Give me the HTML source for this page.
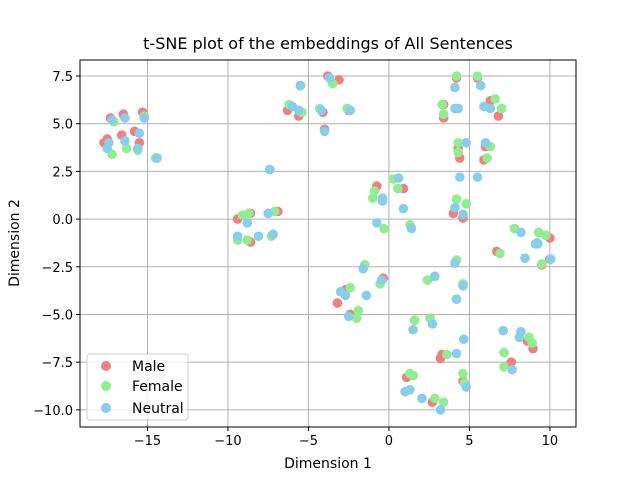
<!DOCTYPE html>
<html><head><meta charset="utf-8"><style>
body{margin:0;background:#fff;}
svg text{font-family:"DejaVu Sans","Liberation Sans",sans-serif;fill:#000;}
</style></head><body>
<svg id="chart" width="640" height="480" viewBox="0 0 640 480" xmlns="http://www.w3.org/2000/svg">
<rect width="640" height="480" fill="#fff"/>
<g id="grid"></g>
<g id="points"></g>
<rect x="80" y="60" width="496" height="367" fill="none" stroke="#000" stroke-width="1"/>
<g id="ticks"></g>
<text x="328" y="49" font-size="16" text-anchor="middle">t-SNE plot of the embeddings of All Sentences</text>
<text x="328" y="468" font-size="14" text-anchor="middle">Dimension 1</text>
<text transform="translate(19,243) rotate(-90)" font-size="14" text-anchor="middle">Dimension 2</text>
<g>
<rect x="87" y="354" width="101" height="66" rx="3" fill="#fff" fill-opacity="0.8" stroke="#ccc"/>
<g><circle cx="106" cy="366" r="5" fill="#F08080"/><text x="132" y="371" font-size="14">Male</text></g>
<g><circle cx="106" cy="386" r="5" fill="#90EE90"/><text x="132" y="391" font-size="14">Female</text></g>
<g><circle cx="106" cy="408" r="5" fill="#87CEEB"/><text x="132" y="413" font-size="14">Neutral</text></g>
</g>
</svg>
<script>
const xTicks=[-15,-10,-5,0,5,10];
const yTicks=[-10,-7.5,-5,-2.5,0,2.5,5,7.5];
const yTickLabels=["−10.0","−7.5","−5.0","−2.5","0.0","2.5","5.0","7.5"];
const xTickLabels=["−15","−10","−5","0","5","10"];
const maleX=[-17.3,-16.5,-15.3,-15.8,-17.7,-17.5,-15.5,-16.6,-6.3,-5.6,-4.1,-4.0,-3.8,-3.1,-2.5,-5.5,-7.4,-9.4,-8.6,-6.9,-8.6,-7.2,4.2,5.5,3.4,3.4,6.3,6.8,4.3,4.4,6.0,5.9,-0.75,0.9,4.0,4.6,7.8,10.0,9.3,6.7,9.5,10.0,-1.5,-0.35,-2.7,-3.2,-2.4,2.4,4.2,4.6,4.2,1.6,2.55,3.3,3.2,1.1,1.5,2.7,4.6,8.6,8.95,7.15,7.6];
const maleY=[5.3,5.5,5.6,4.6,4.0,4.2,4.0,4.4,5.7,5.4,5.6,4.7,7.5,7.3,5.7,7.0,2.6,0.0,0.3,0.4,-1.2,-0.8,7.4,7.4,6.0,5.3,6.2,5.4,3.7,3.2,3.8,3.1,1.73,1.6,0.3,0.05,-0.5,-1.0,-0.7,-1.7,-2.4,-2.1,-2.4,-3.1,-3.7,-4.4,-5.0,-3.2,-2.15,-3.4,-4.2,-5.3,-5.2,-7.1,-7.3,-8.3,-8.2,-9.6,-8.5,-6.4,-6.8,-7.0,-7.5];
const femaleX=[-17.1,-15.2,-16.3,-17.2,-15.6,-14.5,-6.2,-5.4,-4.3,-3.5,-2.6,-5.5,-7.4,-9.1,-8.7,-7.1,-9.4,-8.8,-7.3,4.2,5.5,3.3,3.4,6.6,7.0,4.3,4.3,6.3,6.1,0.25,0.55,-0.9,-1.0,-0.3,1.3,4.2,4.8,7.8,9.3,9.75,6.9,9.5,-1.5,-0.55,-2.4,-1.9,-2.0,2.4,4.2,4.6,4.2,1.6,2.55,3.6,1.3,1.5,2.85,3.4,4.6,4.7,8.7,8.9,7.15,7.15];
const femaleY=[5.1,5.4,3.7,3.4,3.6,3.2,6.0,5.6,5.8,7.1,5.8,7.0,2.6,0.2,0.3,0.4,-1.1,-1.1,-0.9,7.5,7.5,6.0,5.5,6.3,5.8,4.0,3.5,3.8,3.2,2.1,1.6,1.47,1.1,-0.5,-0.3,1.05,0.8,-0.5,-0.7,-0.85,-1.8,-2.35,-2.4,-3.4,-3.6,-4.8,-5.2,-3.2,-2.15,-3.4,-4.2,-5.3,-5.2,-7.1,-8.1,-8.2,-9.4,-9.6,-8.1,-8.6,-6.2,-6.5,-7.0,-7.75];
const neutralX=[-17.2,-16.4,-15.2,-15.5,-17.4,-17.5,-16.4,-15.6,-14.4,-6.0,-5.6,-4.2,-4.0,-3.7,-2.4,-5.5,-7.4,-8.8,-7.5,-9.4,-8.1,-7.2,4.1,5.7,4.1,4.3,5.9,6.3,4.8,6.0,4.4,5.5,0.6,-0.4,-0.4,0.9,-0.75,1.4,4.1,4.6,8.2,9.2,9.1,10.05,8.45,9.25,-1.6,-0.45,-3.0,-2.7,-1.4,-2.5,2.85,4.1,4.6,4.2,1.5,2.7,4.65,4.2,1.0,1.3,2.05,3.2,4.8,7.1,8.2,8.1,7.65];
const neutralY=[5.2,5.3,5.3,4.5,4.0,3.7,4.1,3.7,3.2,5.9,5.7,5.7,4.6,7.4,5.7,7.0,2.6,-0.2,0.3,-0.9,-0.9,-0.8,6.9,7.0,5.8,5.8,5.9,5.8,4.0,4.0,2.2,2.2,2.15,1.1,0.95,0.55,-0.2,-0.5,0.6,0.25,-0.7,-1.25,-1.3,-2.1,-2.05,-1.3,-2.6,-3.2,-3.8,-4.0,-4.0,-5.1,-3.0,-2.3,-3.5,-4.2,-5.8,-5.5,-6.3,-7.05,-9.05,-8.95,-9.4,-10.0,-8.8,-5.85,-5.9,-6.2,-7.9];
const NS="http://www.w3.org/2000/svg";
const L=80,R=576,T=60,B=427,xmin=-19.19,xmax=11.62,ymin=-10.9,ymax=8.34;
function sx(v){return L+(v-xmin)/(xmax-xmin)*(R-L);}
function sy(v){return B-(v-ymin)/(ymax-ymin)*(B-T);}
function mk(tag,attrs,parent){const e=document.createElementNS(NS,tag);for(const k in attrs)e.setAttribute(k,attrs[k]);parent.appendChild(e);return e;}
const grid=document.getElementById('grid'),ticks=document.getElementById('ticks'),pts=document.getElementById('points');
xTicks.forEach((v,i)=>{const x=sx(v);
 const g=mk('line',{x1:x,x2:x,y1:T,y2:B,stroke:'#b0b0b0','stroke-width':1},grid);
 
 
 mk('line',{x1:x,x2:x,y1:B,y2:B+4,stroke:'#000'},ticks);
 const t=mk('text',{x:x,y:B+18,'font-size':13,'text-anchor':'middle'},ticks);t.textContent=xTickLabels[i];
 
 
});
yTicks.forEach((v,i)=>{const y=sy(v);
 const g=mk('line',{x1:L,x2:R,y1:y,y2:y,stroke:'#b0b0b0','stroke-width':1},grid);
 
 
 mk('line',{x1:L-4,x2:L,y1:y,y2:y,stroke:'#000'},ticks);
 const t=mk('text',{x:L-7,y:y+5,'font-size':13,'text-anchor':'end'},ticks);t.textContent=yTickLabels[i];
 
 
});
function series(xs,ys,color,name){xs.forEach((x,i)=>{
 const c=mk('circle',{cx:sx(x),cy:sy(ys[i]),r:4.8,fill:color},pts);
 
 
});}
series(maleX,maleY,'#F08080','male-point');
series(femaleX,femaleY,'#90EE90','female-point');
series(neutralX,neutralY,'#87CEEB','neutral-point');
</script>
</body></html>
